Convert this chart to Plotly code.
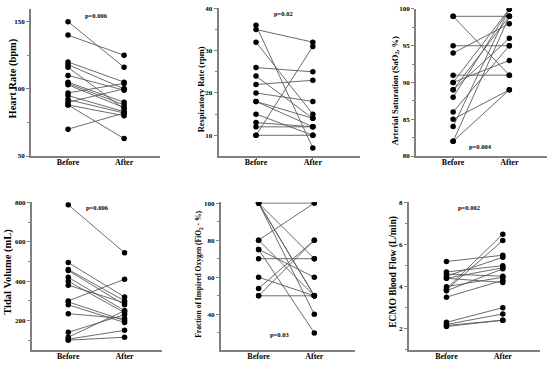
import plotly.graph_objects as go

categories = ["Before", "After"]

hr_before = [150, 140, 120, 118, 116, 110, 105, 104, 103, 97, 95, 92, 90, 88, 88, 70]
hr_after = [116, 125, 105, 100, 85, 99, 90, 88, 86, 104, 83, 82, 100, 80, 63, 82]

rr_before = [36, 35, 32, 26, 24, 22, 20, 18, 18, 15, 13, 12, 10, 10]
rr_after = [7, 32, 15, 25, 14, 23, 18, 12, 14, 10, 12, 12, 10, 31]

sao2_before = [99, 99, 95, 94, 91, 90, 90, 89, 89, 88, 86, 85, 84, 82, 82]
sao2_after = [99, 91, 95, 98, 91, 93, 100, 96, 99, 100, 95, 89, 100, 89, 99]

tv_before = [790, 495, 460, 455, 420, 400, 380, 300, 295, 280, 235, 140, 115, 105, 100]
tv_after = [545, 320, 300, 280, 250, 240, 290, 410, 200, 190, 210, 230, 250, 150, 115]

fio2_before = [100, 100, 100, 100, 100, 80, 80, 75, 75, 70, 60, 54, 50, 50]
fio2_after = [100, 70, 50, 40, 50, 100, 50, 60, 30, 70, 50, 80, 80, 50]

ecmo_before = [5.2, 4.7, 4.6, 4.5, 4.4, 4.4, 4.0, 3.9, 3.85, 3.8, 3.5, 2.3, 2.2, 2.15, 2.1]
ecmo_after = [5.5, 5.0, 4.5, 5.4, 4.9, 4.2, 4.45, 6.5, 6.2, 4.85, 4.3, 3.0, 2.7, 2.4, 2.4]

y_titles = [
    "Heart Rate (bpm)",
    "Respiratory Rate (rpm)",
    "Arterial Saturation (SaO<sub>2</sub>, %)",
    "Tidal Volume (mL)",
    "Fraction of Inspired Oxygen (FiO<sub>2</sub> - %)",
    "ECMO Blood Flow (L/min)",
]
p_texts = ["p=0.006", "p=0.02", "p=0.004", "p=0.006", "p=0.03", "p=0.002"]

W, H = 550, 368
FONT = "Liberation Serif"
AX = "#808080"

panels = [
    dict(b=hr_before, a=hr_after, xp=(31, 160), yp=(6, 156), xr=(-0.66, 1.64), yr=(50, 159.5), dt=50,
         tpos=(13, 77), tsize=10.5, ppos=(96, 13)),
    dict(b=rr_before, a=rr_after, xp=(218.5, 360), yp=(5, 156), xr=(-0.66, 1.83), yr=(5.1, 40.1), dt=10,
         tpos=(201, 88), tsize=8.5, ppos=(283, 11)),
    dict(b=sao2_before, a=sao2_after, xp=(416, 547), yp=(5.7, 156), xr=(-0.66, 1.67), yr=(80, 100.05), dt=5,
         tpos=(395, 90), tsize=8.5, ppos=(480, 146)),
    dict(b=tv_before, a=tv_after, xp=(31.7, 161.7), yp=(203, 353.3), xr=(-0.65, 1.66), yr=(52, 803), dt=200,
         tpos=(8, 274), tsize=10.5, ppos=(97, 208)),
    dict(b=fio2_before, a=fio2_after, xp=(220.7, 355), yp=(203, 353.3), xr=(-0.68, 1.73), yr=(21, 100.5), dt=20,
         tpos=(199, 277), tsize=7.5, ppos=(280, 338)),
    dict(b=ecmo_before, a=ecmo_after, xp=(408.7, 540), yp=(203, 353.3), xr=(-0.67, 1.66), yr=(1, 8.03), dt=2,
         tpos=(394, 274), tsize=9.5, ppos=(469, 208)),
]

fig = go.Figure()
annotations = []
layout = {}
for i, p in enumerate(panels):
    n = "" if i == 0 else str(i + 1)
    xa, ya = "x" + n, "y" + n
    lx, ly = [], []
    for b, a in zip(p["b"], p["a"]):
        lx += [0, 1, None]
        ly += [b, a, None]
    fig.add_trace(go.Scatter(x=lx, y=ly, mode="lines", line=dict(color="#5a5a5a", width=0.9),
                             xaxis=xa, yaxis=ya, showlegend=False, hoverinfo="skip"))
    fig.add_trace(go.Scatter(x=[0] * len(p["b"]) + [1] * len(p["a"]), y=p["b"] + p["a"], mode="markers",
                             marker=dict(color="black", size=5.5), xaxis=xa, yaxis=ya, showlegend=False))
    layout["xaxis" + n] = dict(
        domain=[p["xp"][0] / W, p["xp"][1] / W], range=list(p["xr"]), anchor=ya,
        tickvals=[0, 1], ticktext=categories, showline=True, linecolor=AX, linewidth=1.5,
        ticks="outside", ticklen=2, tickcolor=AX, showgrid=False, zeroline=False,
        ticklabelstandoff=-4,
        tickfont=dict(family=FONT, size=8, color="black", weight="bold"),
    )
    layout["yaxis" + n] = dict(
        domain=[1 - p["yp"][1] / H, 1 - p["yp"][0] / H], range=list(p["yr"]), anchor=xa,
        dtick=p["dt"], tick0=0, showline=True, linecolor=AX, linewidth=1.5,
        ticks="outside", ticklen=3, tickcolor=AX, showgrid=False, zeroline=False,
        minor=dict(dtick=p["dt"] / 2, tick0=0, ticks="outside", ticklen=2, tickcolor=AX, showgrid=False),
        tickfont=dict(family=FONT, size=7, color="black", weight="bold"),
    )
    annotations.append(dict(text=y_titles[i], x=p["tpos"][0] / W, y=1 - p["tpos"][1] / H,
                            xref="paper", yref="paper", textangle=-90, showarrow=False,
                            xanchor="center", yanchor="middle",
                            font=dict(family=FONT, size=p["tsize"], color="black", weight="bold")))
    annotations.append(dict(text=p_texts[i], x=p["ppos"][0] / W, y=1 - p["ppos"][1] / H,
                            xref="paper", yref="paper", showarrow=False,
                            xanchor="center", yanchor="middle",
                            font=dict(family=FONT, size=6.5, color="black", weight="bold")))

fig.update_layout(**layout)
fig.update_layout(width=W, height=H, margin=dict(l=0, r=0, t=0, b=0),
                  paper_bgcolor="white", plot_bgcolor="white", annotations=annotations)
fig.write_html("out.html", config={"displayModeBar": False},
               post_script="document.body.style.margin='0';")
